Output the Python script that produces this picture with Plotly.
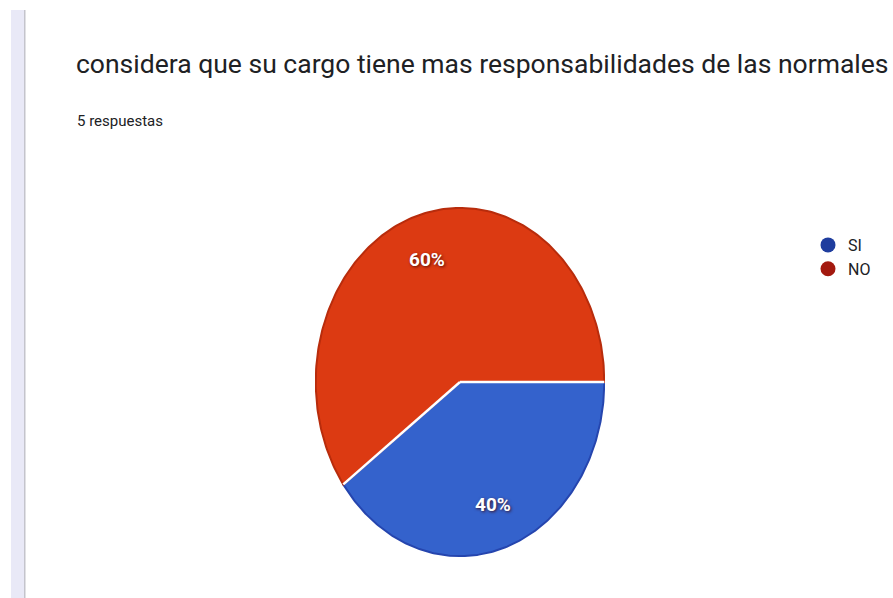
import numpy as np
import plotly.graph_objects as go

# Survey answers
categories = ["SI", "NO"]
counts = [2, 3]
title_text = "considera que su cargo tiene mas responsabilidades de las normales"
subtitle_text = "5 respuestas"

# Styling
W, H = 893, 598
slice_colors = ["#3462cc", "#dc3a12"]
rim_colors = ["#2545ae", "#b82c0c"]
legend_colors = ["#1f3d9e", "#a3190f"]

# Pie box (pixels): left, right, top, bottom
PIE_L, PIE_R, PIE_T, PIE_B = 315, 605, 207, 557


def px_x(v):
    return v / W


def px_y(v):
    return 1 - v / H


fig = go.Figure()

total = sum(counts)
fractions = [c / total for c in counts]
start = 0.0  # begins at 3 o'clock, runs clockwise
label_pos = []
for name, frac, col, rim in zip(categories, fractions, slice_colors, rim_colors):
    a0 = start
    a1 = start - 2 * np.pi * frac
    t = np.linspace(a0, a1, 200)
    xs = np.concatenate([[0], np.cos(t), [0]])
    ys = np.concatenate([[0], np.sin(t), [0]])
    fig.add_trace(go.Scatter(
        x=xs, y=ys, mode="lines", fill="toself", fillcolor=col,
        line=dict(color=rim, width=2), hoverinfo="skip", showlegend=False,
    ))
    mid = (a0 + a1) / 2
    label_pos.append((0.74 * np.cos(mid), 0.74 * np.sin(mid), f"{round(frac * 100)}%"))
    start = a1

# White separators between slices
boundaries = np.concatenate([[0.0], -2 * np.pi * np.cumsum(fractions)[:-1]])
for b in boundaries:
    fig.add_trace(go.Scatter(
        x=[0, np.cos(b)], y=[0, np.sin(b)], mode="lines",
        line=dict(color="white", width=2.5), hoverinfo="skip", showlegend=False,
    ))

# Legend entries
for name, col in zip(categories, legend_colors):
    fig.add_trace(go.Scatter(
        x=[None], y=[None], mode="markers", name=name,
        marker=dict(symbol="circle", size=15, color=col),
    ))

annotations = [
    dict(text=title_text, x=px_x(74), y=px_y(63), xref="paper", yref="paper",
         xanchor="left", yanchor="middle", showarrow=False,
         font=dict(family="Roboto", size=26.5, color="#202124")),
    dict(text=subtitle_text, x=px_x(75), y=px_y(121), xref="paper", yref="paper",
         xanchor="left", yanchor="middle", showarrow=False,
         font=dict(family="Roboto", size=15, color="#202124")),
]
for x, y, txt in label_pos:
    annotations.append(dict(
        text=f"<b>{txt}</b>", x=x, y=y, xref="x", yref="y", showarrow=False,
        font=dict(family="Roboto", size=19, color="white",
                  shadow="1px 1px 3px rgba(60,0,0,0.8)"),
    ))

shapes = [
    dict(type="rect", xref="paper", yref="paper", x0=px_x(11), x1=px_x(24),
         y0=0, y1=px_y(10), fillcolor="#e9e9f7", line=dict(width=0), layer="below"),
    dict(type="rect", xref="paper", yref="paper", x0=px_x(24), x1=px_x(25.5),
         y0=0, y1=px_y(10), fillcolor="#c4c4cc", line=dict(width=0), layer="below"),
]

fig.update_layout(
    width=W, height=H,
    margin=dict(l=0, r=0, t=0, b=0),
    paper_bgcolor="white", plot_bgcolor="rgba(0,0,0,0)",
    xaxis=dict(domain=[px_x(PIE_L), px_x(PIE_R)], range=[-1.005, 1.005],
               visible=False, fixedrange=True),
    yaxis=dict(domain=[px_y(PIE_B), px_y(PIE_T)], range=[-1.005, 1.005],
               visible=False, fixedrange=True),
    legend=dict(x=px_x(808), y=px_y(228), xanchor="left", yanchor="top",
                font=dict(family="Roboto", size=16, color="#202124"),
                bgcolor="rgba(0,0,0,0)", itemclick=False, tracegroupgap=0),
    annotations=annotations,
    shapes=shapes,
    showlegend=True,
)

fig.write_html("out.html")
